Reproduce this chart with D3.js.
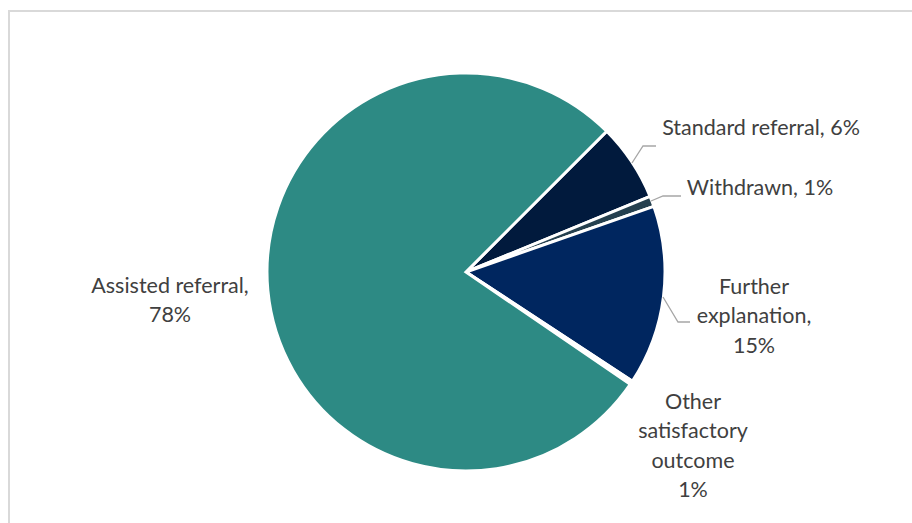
<!DOCTYPE html>
<html>
<head>
<meta charset="utf-8">
<script src="https://cdn.jsdelivr.net/npm/d3@7"></script>
<style>
  html, body { margin: 0; padding: 0; background: #fff; }
  svg { display: block; }
  .lbl { font-family: Lato, "Open Sans", sans-serif; font-size: 21.5px; fill: #404040; }
</style>
</head>
<body>
<div id="chart"></div>
<script>
// slice data, in drawing order (clockwise from ~45 deg)
const categories = ['Standard referral', 'Withdrawn', 'Further explanation', 'Other satisfactory outcome', 'Assisted referral']
const values = [6.3, 0.85, 14.6, 0.3, 77.95]
const labels = [
    ['Standard referral, 6%'],
    ['Withdrawn, 1%'],
    ['Further', 'explanation,', '15%'],
    ['Other', 'satisfactory', 'outcome', '1%'],
    ['Assisted referral,', '78%']
]
const colors = ['#011a3d', '#25404f', '#00265f', '#ffffff', '#2d8a84']

let fullWidth = 912
let fullHeight = 523

const svg = d3.select('#chart').append('svg')
    .attr('width', fullWidth)
    .attr('height', fullHeight)

// chart frame
svg.append('rect')
    .attr('x', 9).attr('y', 11)
    .attr('width', fullWidth + 20).attr('height', fullHeight + 20)
    .attr('fill', 'none')
    .attr('stroke', '#d9d9d9')
    .attr('stroke-width', 2)

const cx = 466, cy = 272, radius = 199

const pie = d3.pie().sort(null).value(d => d.value)
    .startAngle(Math.PI / 4).endAngle(Math.PI / 4 + 2 * Math.PI)

const data = categories.map((c, i) => ({ name: c, value: values[i], label: labels[i], color: colors[i] }))
const arcs = pie(data)

const arc = d3.arc().innerRadius(0).outerRadius(radius)

const g = svg.append('g').attr('transform', `translate(${cx},${cy})`)

g.selectAll('path')
    .data(arcs)
    .enter()
    .append('path')
    .attr('d', arc)
    .attr('fill', d => d.data.color)
    .attr('stroke', '#fff')
    .attr('stroke-width', 3)
    .attr('stroke-linejoin', 'miter')

// label layout (text centre x, first baseline y) and leader lines
const labelPos = {
    'Standard referral': { x: 761, y: 135, leader: [[632, 163], [643, 146], [656, 146]] },
    'Withdrawn': { x: 760, y: 195, leader: [[651, 201], [663, 196], [681, 196]] },
    'Further explanation': { x: 754, y: 294, leader: [[663, 297], [678, 322], [690, 322]] },
    'Other satisfactory outcome': { x: 693, y: 409, leader: null },
    'Assisted referral': { x: 170, y: 293, leader: null }
}
const lineHeight = 29.3

const line = d3.line()

arcs.forEach(d => {
    let p = labelPos[d.data.name]
    if (p.leader) {
        svg.append('path')
            .attr('d', line(p.leader))
            .attr('fill', 'none')
            .attr('stroke', '#a6a6a6')
            .attr('stroke-width', 1.3)
    }
    let t = svg.append('text')
        .attr('class', 'lbl')
        .attr('text-anchor', 'middle')
    d.data.label.forEach((s, i) => {
        t.append('tspan')
            .attr('x', p.x)
            .attr('y', p.y + i * lineHeight)
            .text(s)
    })
})
</script>
</body>
</html>
